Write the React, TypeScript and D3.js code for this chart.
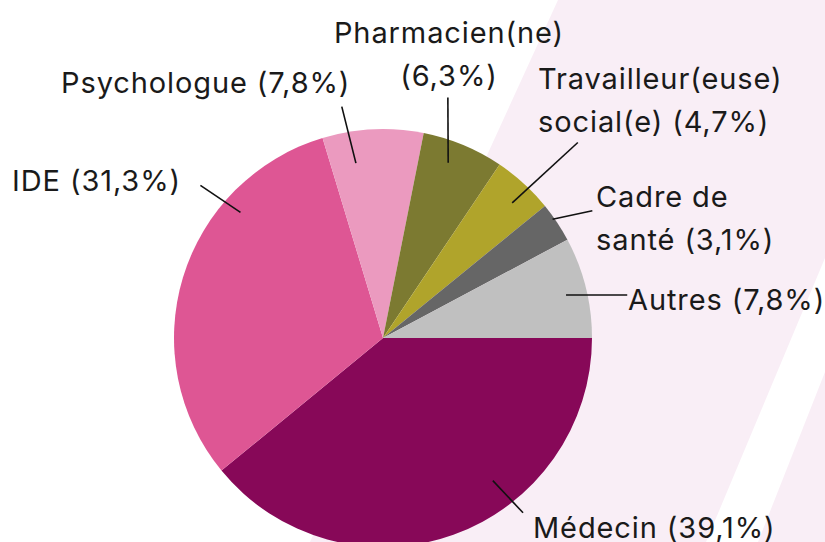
import React from 'react';
import * as d3 from 'd3';

// Répartition des professions (%)
const categories = ['Médecin', 'IDE', 'Psychologue', 'Pharmacien(ne)', 'Travailleur(euse) social(e)', 'Cadre de santé', 'Autres'];
const shares = [39.1, 31.3, 7.8, 6.3, 4.7, 3.1, 7.8];
const colors = ['#870858', '#de5694', '#eb9abf', '#7c7a31', '#b0a42b', '#666666', '#c0c0c0'];

// label layout: leader line in polar coords (deg, px) + text lines
const labelLayout = [
  { a1: 142.4, r1: 180, a2: 141.3, r2: 224, x: 533, y: 538, anchor: 'start', lines: ['Médecin (39,1%)'] },
  { a1: 311.4, r1: 190, a2: 309.9, r2: 238, x: 12, y: 191, anchor: 'start', lines: ['IDE (31,3%)'] },
  { a1: -8.8, r1: 177, a2: -10.1, r2: 235, x: 61, y: 93, anchor: 'start', lines: ['Psychologue (7,8%)'] },
  { a1: 20.4, r1: 187, a2: 15.1, r2: 249, x: 449, y: 43, anchor: 'middle', lines: ['Pharmacien(ne)', '(6,3%)'] },
  { a1: 43.7, r1: 187, a2: 44.9, r2: 276, x: 538, y: 89, anchor: 'start', lines: ['Travailleur(euse)', 'social(e) (4,7%)'] },
  { a1: 55, r1: 207, a2: 58.7, r2: 245, x: 596, y: 207, anchor: 'start', lines: ['Cadre de', 'santé (3,1%)'] },
  { a1: 76.8, r1: 188, a2: 80, r2: 248, x: 628, y: 310, anchor: 'start', lines: ['Autres (7,8%)'] },
];

const W = 825;
const H = 542;
const cx = 383;
const cy = 338;
const radius = 209;
const lineGap = 43;

const polar = (deg: number, r: number) => {
  const a = (deg * Math.PI) / 180;
  return [cx + Math.sin(a) * r, cy - Math.cos(a) * r];
};

export default function App() {
  const pie = d3.pie<number>().sort(null).value(d => d)
    .startAngle(Math.PI / 2).endAngle(Math.PI / 2 + 2 * Math.PI);
  const arcs = pie(shares);
  const arc = d3.arc<d3.PieArcDatum<number>>().innerRadius(0).outerRadius(radius);

  return (
    <svg width={W} height={H} style={{ position: 'absolute', left: 0, top: 0, background: '#fff' }}
      fontFamily="Inter, 'Noto Sans', sans-serif">
      {/* decorative background bands */}
      <polygon points="558,0 825,0 825,258 706,542 310,542" fill="#f9eef6" />
      <polygon points="825,372 825,542 758,542" fill="#f9eef6" />

      <g transform={`translate(${cx},${cy})`}>
        {arcs.map((d, i) => (
          <path key={categories[i]} d={arc(d) || ''} fill={colors[i]} />
        ))}
      </g>

      {labelLayout.map((l, i) => {
        const [x1, y1] = polar(l.a1, l.r1);
        const [x2, y2] = polar(l.a2, l.r2);
        return (
          <g key={categories[i]}>
            <line x1={x1} y1={y1} x2={x2} y2={y2} stroke="#111" strokeWidth={1.6} />
            <text x={l.x} y={l.y} textAnchor={l.anchor} fontSize={29} letterSpacing={0.9} fill="#1a1a1a">
              {l.lines.map((t, j) => (
                <tspan key={j} x={l.x} y={l.y + j * lineGap}>{t}</tspan>
              ))}
            </text>
          </g>
        );
      })}
    </svg>
  );
}
